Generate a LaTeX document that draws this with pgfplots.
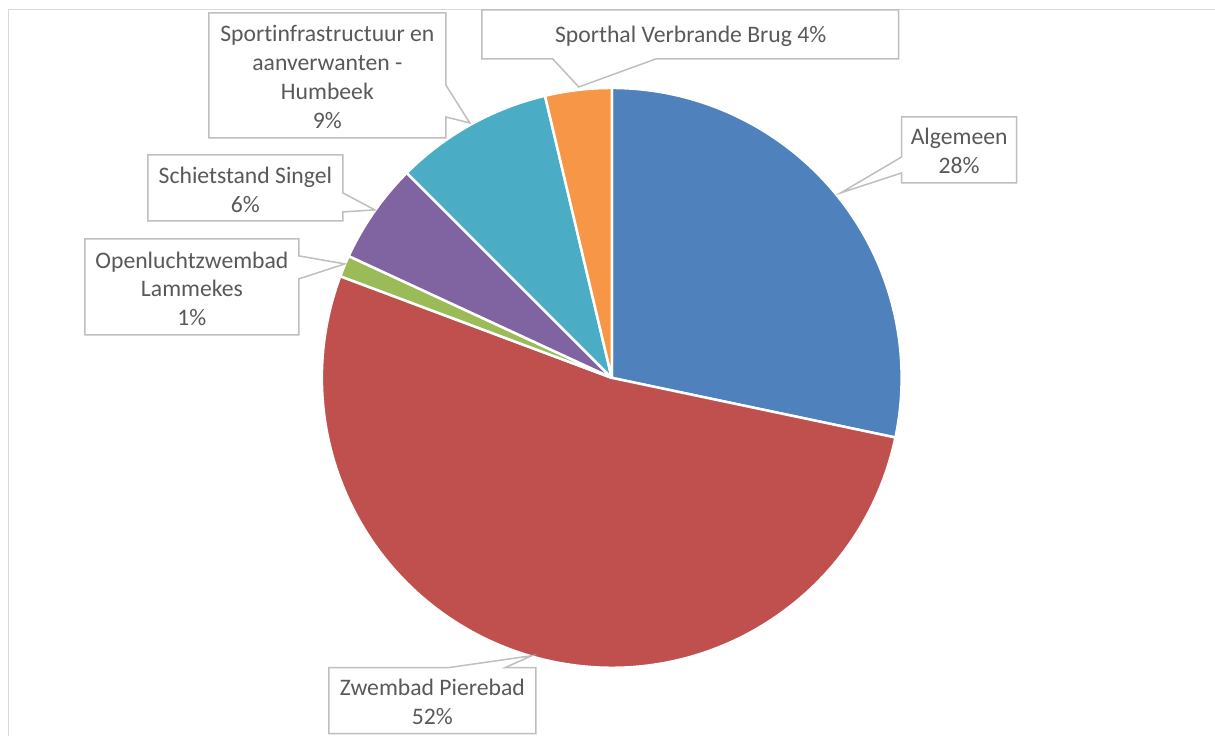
\documentclass[border=0pt]{standalone}
\usepackage{pgfplots}
\usepackage{pgfplotstable}
\pgfplotsset{compat=1.18}
\usepackage{fontspec}
\setmainfont{Carlito}[Ligatures=NoCommon]

\definecolor{cAlg}{HTML}{4F81BD}
\definecolor{cZwem}{HTML}{C0504D}
\definecolor{cOpen}{HTML}{9BBB59}
\definecolor{cSchiet}{HTML}{8064A2}
\definecolor{cInfra}{HTML}{4BACC6}
\definecolor{cHal}{HTML}{F79646}
\definecolor{txt}{HTML}{595959}
\definecolor{boxc}{HTML}{BFBFBF}
\definecolor{framec}{HTML}{D9D9D9}

% shares in percent, clockwise from 12 o'clock
\pgfplotstableread{
name share
Algemeen 28.3
Zwembad 52.4
Openlucht 1.2
Schietstand 5.6
Sportinfra 8.8
Sporthal 3.7
}\piedata

\pgfmathsetmacro\aS{90}
\pgfplotstablegetelem{0}{share}\of\piedata \pgfmathsetmacro\aA{\aS-3.6*\pgfplotsretval}
\pgfplotstablegetelem{1}{share}\of\piedata \pgfmathsetmacro\aB{\aA-3.6*\pgfplotsretval}
\pgfplotstablegetelem{2}{share}\of\piedata \pgfmathsetmacro\aC{\aB-3.6*\pgfplotsretval}
\pgfplotstablegetelem{3}{share}\of\piedata \pgfmathsetmacro\aD{\aC-3.6*\pgfplotsretval}
\pgfplotstablegetelem{4}{share}\of\piedata \pgfmathsetmacro\aE{\aD-3.6*\pgfplotsretval}
\pgfplotstablegetelem{5}{share}\of\piedata \pgfmathsetmacro\aF{\aE-3.6*\pgfplotsretval}

\begin{document}
\begin{tikzpicture}
\begin{axis}[
  x=0.6pt, y=0.6pt,
  xmin=0, xmax=1215, ymin=0, ymax=736,
  y dir=reverse,
  hide axis, clip=false,
]
\path (axis cs:0,0) rectangle (axis cs:1215,736);
\draw[framec, line width=0.6pt] (axis cs:9,736) -- (axis cs:9,10) -- (axis cs:1215,10);

\tikzset{slice/.style={draw=white, line width=1.5pt, line join=round}}
\fill[cAlg, slice]    (axis cs:612,378) -- ++(\aS:174pt) arc[start angle=\aS, end angle=\aA, radius=174pt] -- cycle;
\fill[cZwem, slice]   (axis cs:612,378) -- ++(\aA:174pt) arc[start angle=\aA, end angle=\aB, radius=174pt] -- cycle;
\fill[cOpen, slice]   (axis cs:612,378) -- ++(\aB:174pt) arc[start angle=\aB, end angle=\aC, radius=174pt] -- cycle;
\fill[cSchiet, slice] (axis cs:612,378) -- ++(\aC:174pt) arc[start angle=\aC, end angle=\aD, radius=174pt] -- cycle;
\fill[cInfra, slice]  (axis cs:612,378) -- ++(\aD:174pt) arc[start angle=\aD, end angle=\aE, radius=174pt] -- cycle;
\fill[cHal, slice]    (axis cs:612,378) -- ++(\aE:174pt) arc[start angle=\aE, end angle=\aF, radius=174pt] -- cycle;

\tikzset{callout/.style={draw=boxc, fill=white, line width=0.9pt, line join=miter},
         lab/.style={text=txt, align=center, inner sep=0pt, font=\fontsize{14.2}{17.4}\selectfont}}
% Sportinfrastructuur
\path[callout] (axis cs:209,13) -- (axis cs:446,13) -- (axis cs:446,85) -- (axis cs:470,123) -- (axis cs:446,117) -- (axis cs:446,138) -- (axis cs:209,138) -- cycle;
\node[lab] at (axis cs:327.5,77) {Sportinfrastructuur en\\aanverwanten -\\Humbeek\\9\%};
% Sporthal
\path[callout] (axis cs:482,10) -- (axis cs:899,10) -- (axis cs:899,59) -- (axis cs:656,59) -- (axis cs:579,87) -- (axis cs:553,59) -- (axis cs:482,59) -- cycle;
\node[lab] at (axis cs:691,36) {Sporthal Verbrande Brug 4\%};
% Algemeen
\path[callout] (axis cs:902,117) -- (axis cs:1017,117) -- (axis cs:1017,183) -- (axis cs:902,183) -- (axis cs:902,173) -- (axis cs:841,193) -- (axis cs:902,157) -- cycle;
\node[lab] at (axis cs:959.5,151) {Algemeen\\28\%};
% Schietstand
\path[callout] (axis cs:148,155) -- (axis cs:343,155) -- (axis cs:343,193) -- (axis cs:375,210) -- (axis cs:343,212) -- (axis cs:343,221) -- (axis cs:148,221) -- cycle;
\node[lab] at (axis cs:245.5,190) {Schietstand Singel\\6\%};
% Openluchtzwembad
\path[callout] (axis cs:85,239) -- (axis cs:299,239) -- (axis cs:299,256) -- (axis cs:345,264) -- (axis cs:299,279) -- (axis cs:299,335) -- (axis cs:85,335) -- cycle;
\node[lab] at (axis cs:192,289) {Openluchtzwembad\\Lammekes\\1\%};
% Zwembad Pierebad
\path[callout] (axis cs:329,668) -- (axis cs:448,668) -- (axis cs:532,656) -- (axis cs:505,668) -- (axis cs:536,668) -- (axis cs:536,734) -- (axis cs:329,734) -- cycle;
\node[lab] at (axis cs:432.5,702) {Zwembad Pierebad\\52\%};
\end{axis}
\end{tikzpicture}
\end{document}
